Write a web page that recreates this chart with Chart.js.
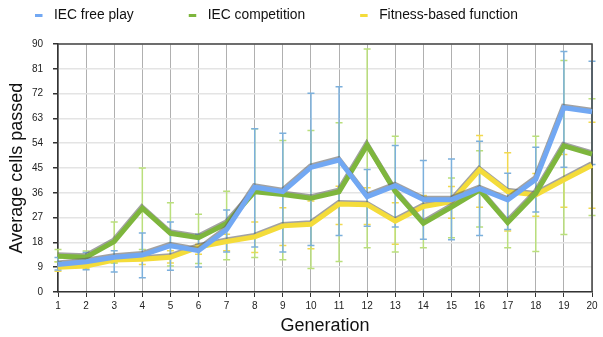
<!DOCTYPE html>
<html>
<head>
<meta charset="utf-8">
<script src="https://cdn.jsdelivr.net/npm/chart.js@4"></script>
<style>
  html, body { margin: 0; padding: 0; background: #fff; }
  #wrap { width: 603px; height: 337px; }
</style>
</head>
<body>
<div id="wrap"><canvas id="grafico"></canvas></div>
<script>
// =====================
// Dados
// =====================
const generations = ["1","2","3","4","5","6","7","8","9","10","11","12","13","14","15","16","17","18","19","20"];
const yTicks = [0, 9, 18, 27, 36, 45, 54, 63, 72, 81, 90];

const freePlay = [10, 11, 12.6, 13.4, 16.8, 15, 22.7, 38, 36.4, 45.2, 47.9, 34.6, 38.6, 33.6, 33.5, 37.5, 33.4, 40.9, 66.9, 65.4];
const freePlayLow = [8, 8.1, 7.3, 5.2, 7.9, 9.1, 14.5, 16.3, 14.5, 16.9, 20.5, 23.9, 23.6, 19.1, 19, 20.5, 22.7, 29, 45.3, 46.3];
const freePlayHigh = [12.5, 14.3, 15, 21.4, 25.4, 21, 29.8, 59.2, 57.6, 72.1, 74.5, 44.5, 53.2, 47.7, 48.3, 54.7, 43.1, 52.5, 87.3, 83.7];

const competition = [13, 12.6, 18.3, 30.4, 21.3, 19.7, 24.9, 36.4, 35.4, 34, 36.4, 53.3, 36.5, 24.9, 30.8, 37, 25.2, 35.8, 53, 50];
const competitionLow = [11, 10, 10.5, 15.4, 9.4, 10.3, 11.7, 12.5, 11.7, 8.5, 11.1, 16.1, 14.5, 16.1, 19.7, 23.6, 16.1, 14.7, 20.9, 27.8];
const competitionHigh = [15.4, 14.9, 25.4, 45, 32.4, 28.2, 36.6, 59.2, 55, 58.6, 61.4, 88.2, 56.5, 34, 41.4, 51.3, 34, 56.5, 84, 70.1];

const fitness = [9, 9.4, 11.6, 11.9, 12.6, 16.3, 18.3, 20, 24, 24.6, 31.9, 31.7, 25.7, 31, 32.8, 44.3, 36.4, 35.2, 40.7, 46];
const fitnessLow = [7.5, 8.5, 10.5, 10, 10.5, 13.7, 15, 14.3, 16.9, 15.7, 24.5, 24.5, 17.3, 26, 26.8, 30.8, 22.1, 27.5, 30.8, 30.4];
const fitnessHigh = [11, 11.5, 13, 13.3, 15, 17.3, 21, 25.4, 30.6, 33, 38.4, 37.8, 32.4, 35, 38.3, 56.8, 50.5, 43, 49.9, 61.6];

const seriesNames = ["IEC free play", "IEC competition", "Fitness-based function"];
const lineColors = ["#72a8f3", "#7eb63d", "#f4dc3a"];
const barColors = ["#7cb0dc", "#badf7c", "#f2d94f"];

// =====================
// Plugins
// =====================
// barras de erro + moldura superior/direita
const errorBars = {
  id: "errorBars",
  beforeDatasetsDraw(chart) {
    const ctx = chart.ctx;
    const x = chart.scales.x;
    const y = chart.scales.y;
    const lows = [freePlayLow, competitionLow, fitnessLow];
    const highs = [freePlayHigh, competitionHigh, fitnessHigh];
    ctx.save();
    ctx.lineWidth = 1.5;
    for (let s = 2; s >= 0; s--) {
      ctx.strokeStyle = barColors[s];
      generations.forEach((g, i) => {
        const px = x.getPixelForValue(i);
        const pLow = y.getPixelForValue(lows[s][i]);
        const pHigh = y.getPixelForValue(highs[s][i]);
        ctx.beginPath();
        ctx.moveTo(px, pLow);
        ctx.lineTo(px, pHigh);
        ctx.moveTo(px - 3.5, pLow);
        ctx.lineTo(px + 3.5, pLow);
        ctx.moveTo(px - 3.5, pHigh);
        ctx.lineTo(px + 3.5, pHigh);
        ctx.stroke();
      });
    }
    const a = chart.chartArea;
    ctx.strokeStyle = "#444";
    ctx.lineWidth = 1.5;
    ctx.beginPath();
    ctx.moveTo(a.left, a.top);
    ctx.lineTo(a.right, a.top);
    ctx.lineTo(a.right, a.bottom);
    ctx.stroke();
    ctx.restore();
  },
};

// sombra cinza por cima das linhas
const lineShadow = {
  id: "lineShadow",
  beforeDatasetDraw(chart) {
    const ctx = chart.ctx;
    ctx.save();
    ctx.shadowColor = "rgba(100, 100, 100, 0.6)";
    ctx.shadowBlur = 0.5;
    ctx.shadowOffsetX = -0.5;
    ctx.shadowOffsetY = -1.5;
  },
  afterDatasetDraw(chart) {
    chart.ctx.restore();
  },
};

// legenda desenhada a mão (espaçamento largo entre itens)
const topLegend = {
  id: "topLegend",
  afterDraw(chart) {
    const ctx = chart.ctx;
    ctx.save();
    ctx.font = "13.8px 'Liberation Sans'";
    ctx.textBaseline = "middle";
    let x = 35;
    const yMid = 15.5;
    chart.data.datasets.forEach((ds) => {
      ctx.fillStyle = ds.borderColor;
      ctx.fillRect(x, yMid - 1.5, 7.5, 3);
      ctx.fillStyle = "#111";
      ctx.fillText(ds.label, x + 19, yMid);
      x += 19 + ctx.measureText(ds.label).width + 55;
    });
    ctx.restore();
  },
};

// =====================
// Gráfico
// =====================
const ctx = document.getElementById("grafico").getContext("2d");

const chart = new Chart(ctx, {
  type: "line",
  data: {
    labels: generations,
    datasets: [
      { label: seriesNames[0], data: freePlay, borderColor: lineColors[0] },
      { label: seriesNames[1], data: competition, borderColor: lineColors[1] },
      { label: seriesNames[2], data: fitness, borderColor: lineColors[2] },
    ].map((d) => Object.assign(d, { borderWidth: 5, pointRadius: 0, tension: 0, fill: false })),
  },
  plugins: [errorBars, lineShadow, topLegend],
  options: {
    responsive: true,
    maintainAspectRatio: false,
    animation: false,
    layout: { padding: { left: 0, right: 11, top: 44, bottom: 0 } },
    plugins: {
      legend: { display: false },
      tooltip: { enabled: false },
    },
    scales: {
      x: {
        offset: false,
        grid: {
          color: "#b0b0b0",
          lineWidth: 1,
          borderDash: [2, 2],
          tickColor: "#333",
          tickLength: 5,
          tickBorderDash: [],
        },
        border: { display: true, color: "#333", width: 1.5 },
        ticks: { color: "#222", font: { family: "Liberation Sans", size: 10 }, maxRotation: 0, autoSkip: false, padding: 3 },
        title: { display: true, text: "Generation", color: "#111", font: { family: "Liberation Sans", size: 18 }, padding: { top: 4, bottom: 0 } },
        afterFit: (s) => { s.height = 45; },
      },
      y: {
        min: 0,
        max: 90,
        afterBuildTicks: (s) => { s.ticks = yTicks.map((v) => ({ value: v })); },
        grid: { color: "#e4e4e4", lineWidth: 1.5, tickColor: "#333", tickLength: 5 },
        border: { display: true, color: "#333", width: 1.5 },
        ticks: { color: "#222", font: { family: "Liberation Sans", size: 10 }, padding: 10 },
        title: { display: true, text: "Average cells passed", color: "#111", font: { family: "Liberation Sans", size: 18 }, padding: { top: 6, bottom: 0 } },
        afterFit: (s) => { s.width = 58; },
      },
    },
  },
});
</script>
</body>
</html>
